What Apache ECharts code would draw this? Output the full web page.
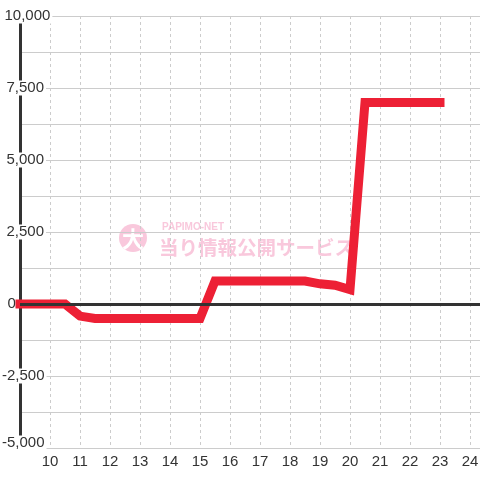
<!DOCTYPE html>
<html>
<head>
<meta charset="utf-8">
<script src="https://cdn.jsdelivr.net/npm/echarts@6/dist/echarts.min.js"></script>
<style>
html,body{margin:0;padding:0;background:#fff;}
#chart{width:480px;height:480px;}
</style>
</head>
<body>
<div id="chart"></div>
<script>
// Data
const hours = [9, 9.5, 10, 10.5, 11, 11.5, 12, 12.5, 13, 13.5, 14, 14.5, 15, 15.5, 16, 16.5, 17, 17.5, 18, 18.5, 19, 19.5, 20, 20.5, 21, 21.5, 22, 22.5, 23];
const values = [0, 0, 0, 0, -420, -500, -500, -500, -500, -500, -500, -500, -500, 800, 800, 800, 800, 800, 800, 800, 700, 650, 500, 7000, 7000, 7000, 7000, 7000, 7000];
const yTicks = [-5000, -2500, 0, 2500, 5000, 7500, 10000];
const xTickLabels = ['10','11','12','13','14','15','16','17','18','19','20','21','22','23','24'];

const seriesData = hours.map((h, i) => [h, values[i]]);
const fontFamily = '"Liberation Sans", Arial, sans-serif';
const pink = '#f9c8dc';

function labelStyle(extraLeft) {
  return {fontSize: 15, color: '#333', fontFamily: fontFamily, backgroundColor: '#fff', padding: [0, 2, 0, extraLeft]};
}

const chart = echarts.init(document.getElementById('chart'), null, {renderer: 'canvas'});
chart.setOption({
  animation: false,
  backgroundColor: '#fff',
  grid: {left: 20, right: 0, top: 16, bottom: 32, containLabel: false, outerBoundsMode: 'none'},
  xAxis: {
    type: 'value',
    min: 9,
    max: 9 + 46 / 3,
    interval: 1,
    z: 0,
    axisLine: {show: true, onZero: false, lineStyle: {color: '#cccccc', width: 1}},
    axisTick: {show: false},
    splitLine: {show: true, lineStyle: {color: '#cccccc', width: 1, type: [3, 3]}},
    axisLabel: {
      fontSize: 15, color: '#333', fontFamily: fontFamily, margin: 6,
      formatter: v => (xTickLabels.indexOf(String(v)) >= 0 ? String(v) : '')
    }
  },
  yAxis: {
    type: 'value',
    min: yTicks[0],
    max: yTicks[yTicks.length - 1],
    interval: 2500,
    z: 1,
    axisLine: {show: true, lineStyle: {color: '#333333', width: 3}},
    axisTick: {show: false},
    minorTick: {show: false, splitNumber: 2},
    splitLine: {show: true, lineStyle: {color: '#cccccc', width: 1}},
    minorSplitLine: {show: true, lineStyle: {color: '#cccccc', width: 1}},
    axisLabel: {
      fontSize: 15, color: '#333', fontFamily: fontFamily,
      align: 'left', margin: 19,
      formatter: v => {
        const s = v.toLocaleString('en-US');
        if (v === yTicks[0]) return '{neg|' + s + '}\n{gap|}';
        if (v < 0) return '{neg|' + s + '}';
        if (v === 0) return '{zero|' + s + '}';
        if (v >= 10000) return '{big|' + s + '}';
        return '{pos|' + s + '}';
      },
      rich: {
        neg: labelStyle(1),
        zero: labelStyle(6.5),
        big: labelStyle(3.5),
        pos: labelStyle(5.5),
        gap: {height: 10, fontSize: 1}
      }
    }
  },
  graphic: [
    {type: 'circle', z: -5, silent: true, shape: {cx: 133, cy: 238, r: 14}, style: {fill: pink}},
    {type: 'text', z: -4, silent: true, x: 133, y: 239, style: {text: '大', fill: '#fff', font: 'bold 22px "Noto Sans CJK JP"', textAlign: 'center', textVerticalAlign: 'middle'}},
    {type: 'text', z: -4, silent: true, x: 162, y: 227, style: {text: 'PAPIMO-NET', fill: pink, font: 'bold 10px "Liberation Sans Narrow", "Liberation Sans"', textAlign: 'left', textVerticalAlign: 'middle'}},
    {type: 'text', z: -4, silent: true, x: 159, y: 248, style: {text: '当り情報公開サービス', fill: pink, font: 'bold 19.5px "Noto Sans CJK JP"', textAlign: 'left', textVerticalAlign: 'middle'}}
  ],
  series: [
    {
      type: 'line', data: [], z: 2, silent: true,
      markLine: {
        silent: true, symbol: 'none', label: {show: false},
        lineStyle: {color: '#333333', width: 3, type: 'solid'},
        data: [{yAxis: 0}]
      }
    },
    {
      type: 'line', data: seriesData, z: 3,
      showSymbol: false, symbol: 'none',
      lineStyle: {color: '#ed2035', width: 9, cap: 'square', join: 'miter'}
    }
  ]
});
</script>
</body>
</html>
